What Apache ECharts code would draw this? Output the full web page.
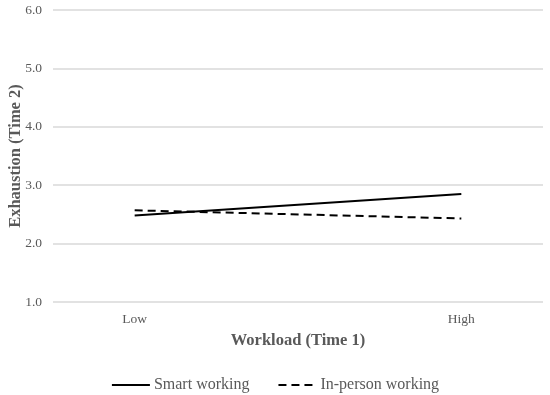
<!DOCTYPE html>
<html>
<head>
<meta charset="utf-8">
<script src="https://cdn.jsdelivr.net/npm/echarts@6/dist/echarts.min.js"></script>
<style>html,body{margin:0;padding:0;background:#fff}#c{width:550px;height:395px}</style>
</head>
<body>
<div id="c"></div>
<script>
const categories = ['Low', 'High'];
const categoryPositions = [1, 2];
const smartWorking = [2.48, 2.85];
const inPersonWorking = [2.57, 2.43];
const yTicks = [1, 2, 3, 4, 5, 6];

const font = '"Liberation Serif", "Times New Roman", serif';
const gray = '#595959';

const chart = echarts.init(document.getElementById('c'), null, {renderer: 'canvas'});
chart.setOption({
  animation: false,
  backgroundColor: '#ffffff',
  grid: {left: 53, right: 7, top: 10, bottom: 93, containLabel: false, outerBoundsMode: 'none'},
  xAxis: {
    type: 'value',
    min: 0.75, max: 2.25,
    name: 'Workload (Time 1)',
    nameLocation: 'middle',
    nameGap: 30,
    nameMoveOverlap: false,
    nameTextStyle: {fontFamily: font, fontWeight: 'bold', fontSize: 16.5, color: gray},
    axisLine: {show: false},
    axisTick: {show: false},
    splitLine: {show: false},
    axisLabel: {
      customValues: categoryPositions,
      margin: 10,
      fontFamily: font, fontSize: 13.5, color: gray,
      formatter: v => categories[categoryPositions.indexOf(v)] || ''
    }
  },
  yAxis: {
    type: 'value',
    min: yTicks[0], max: yTicks[yTicks.length - 1], interval: 1,
    name: 'Exhaustion (Time 2)',
    nameLocation: 'middle',
    nameGap: 29,
    nameMoveOverlap: false,
    nameTextStyle: {fontFamily: font, fontWeight: 'bold', fontSize: 16.5, color: gray},
    axisLine: {show: false},
    axisTick: {show: false},
    splitLine: {lineStyle: {color: '#d9d9d9', width: 1.5}},
    axisLabel: {margin: 11, fontFamily: font, fontSize: 13.5, color: gray, formatter: v => v.toFixed(1)}
  },
  legend: {
    left: 'center',
    top: 372,
    itemWidth: 38,
    itemHeight: 10,
    itemGap: 28,
    itemStyle: {opacity: 0},
    textStyle: {fontFamily: font, fontSize: 16, color: gray, padding: [0, 0, 0, -1]},
    data: ['Smart working', 'In-person working']
  },
  series: [
    {
      name: 'Smart working', type: 'line', symbol: 'none',
      data: categoryPositions.map((x, i) => [x, smartWorking[i]]),
      lineStyle: {color: '#000', width: 2, type: 'solid'},
      itemStyle: {color: '#000'}
    },
    {
      name: 'In-person working', type: 'line', symbol: 'none',
      data: categoryPositions.map((x, i) => [x, inPersonWorking[i]]),
      lineStyle: {color: '#000', width: 2, type: [8, 5]},
      itemStyle: {color: '#000'}
    }
  ]
});
</script>
</body>
</html>
